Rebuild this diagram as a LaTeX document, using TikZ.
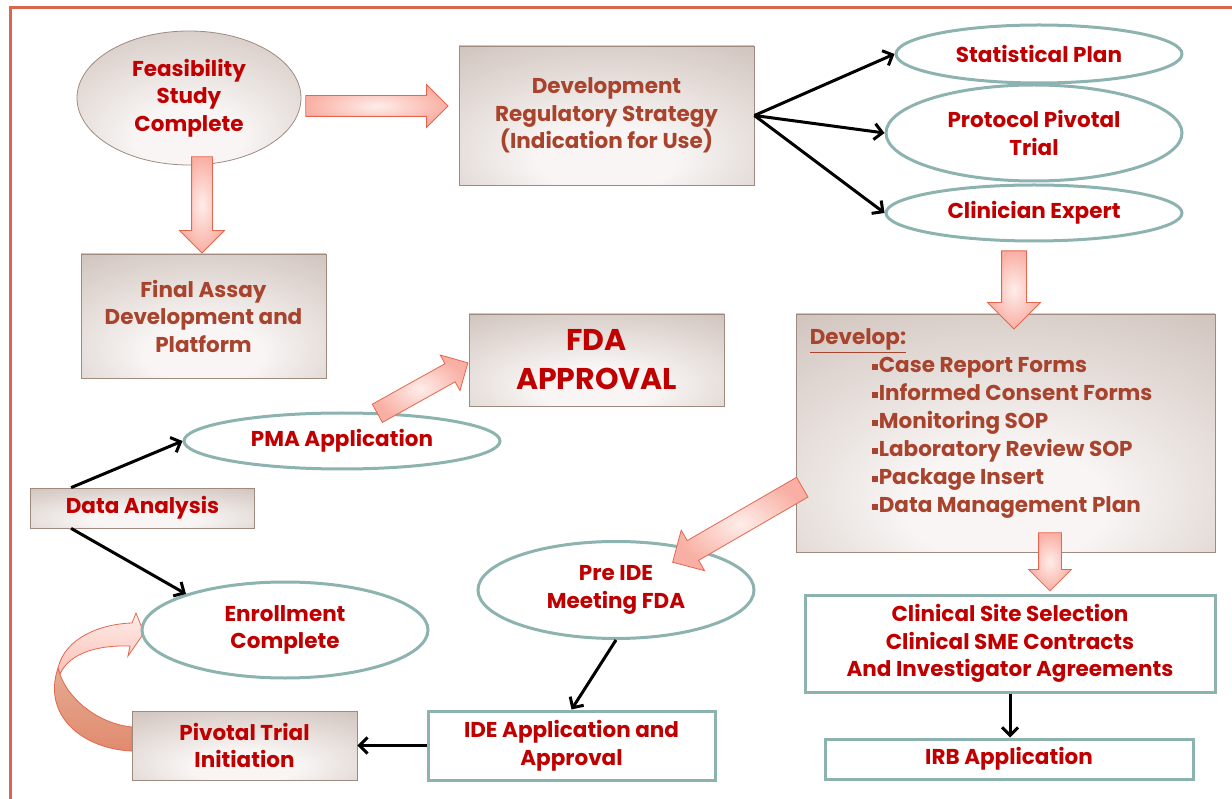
\documentclass[tikz,border=0pt]{standalone}
\usepackage{fontspec}
\setmainfont{Poppins}
\usetikzlibrary{shapes.geometric,shapes.arrows,arrows.meta,calc}
\definecolor{txtred}{HTML}{C00000}
\definecolor{txtbrown}{HTML}{A8432E}
\definecolor{tealline}{HTML}{8DB3B1}
\definecolor{boxin}{HTML}{F8F5F4}
\definecolor{boxout}{HTML}{CDBFB8}
\definecolor{boxline}{HTML}{9F8A80}
\definecolor{pinkin}{HTML}{FEEDEA}
\definecolor{pinkout}{HTML}{F9AFA3}
\definecolor{pinkline}{HTML}{E4664F}
\definecolor{framered}{HTML}{D9664F}
\pgfdeclareradialshading{boxglow}{\pgfpoint{0bp}{-18bp}}{color(0bp)=(boxin); color(12bp)=(boxin); color(45bp)=(boxout); color(80bp)=(boxout)}
\newcommand\sqb{\raisebox{0.13em}{\rule{0.28em}{0.28em}}\kern1pt}

\begin{document}
\begin{tikzpicture}[x=1pt, y=-1pt,
  every node/.style={font=\bfseries\fontsize{21.5}{27.5}\selectfont, align=center, inner sep=0pt},
  graybox/.style={draw=boxline, line width=0.8pt, shading=boxglow},
  grayoval/.style={graybox, ellipse},
  oval/.style={ellipse, draw=tealline, line width=3pt, fill=white},
  tealbox/.style={draw=tealline, line width=3pt, fill=white},
  fatarrow/.style={single arrow, anchor=tail, draw=pinkline, line width=0.8pt,
    inner color=pinkin, outer color=pinkout, inner xsep=0pt},
  link/.style={-{Straight Barb[length=8pt,width=16pt]}, line width=3pt}]
  \useasboundingbox (0,0) rectangle (1232,799);
  \draw[framered, line width=3pt] (10,8) rectangle (1260,830);

  \draw[top color=pinkline!50!brown!60, bottom color=pinkline!70!brown!80, draw=pinkline, line width=0.8pt]
    (132,751) .. controls (82,749) and (42,715) .. (58,668)
    .. controls (66,700) and (100,724) .. (132,727) -- cycle;
  \draw[top color=pinkin, bottom color=pinkout!80, draw=pinkline, line width=0.8pt]
    (58,668) .. controls (65,638) and (100,624) .. (132,623) -- (136,613) -- (144,633)
    -- (128,656) -- (130,646) .. controls (100,645) and (70,652) .. (60,674) -- cycle;

  \node[grayoval, minimum width=224pt, minimum height=134pt, text=txtred] (feas) at (189,98) {Feasibility\\Study\\Complete};
  \node[graybox, minimum width=245pt, minimum height=124pt, text=txtbrown] (final) at (203.5,316) {Final Assay\\Development and\\Platform};
  \node[graybox, minimum width=295pt, minimum height=139pt, text=txtbrown] (dev) at (606.5,115.5) {Development\\Regulatory Strategy\\(Indication for Use)};
  \node[oval, minimum width=286pt, minimum height=58pt, text=txtred] (stat) at (1039,54) {Statistical Plan};
  \node[oval, minimum width=296pt, minimum height=96pt, text=txtred] (prot) at (1034,133) {Protocol Pivotal\\Trial};
  \node[oval, minimum width=296pt, minimum height=56pt, text=txtred] (clin) at (1034,213) {Clinician Expert};
  \node[graybox, minimum width=419pt, minimum height=238pt] (devl) at (1005.5,433) {};
  \node[anchor=north west, align=left, text=txtbrown, font=\bfseries\fontsize{21.5}{28}\selectfont] (devtxt) at ($(devl.north west)+(14,15)$)
    {\underline{Develop:}\\
     \hspace*{62pt}\sqb Case Report Forms\\
     \hspace*{62pt}\sqb Informed Consent Forms\\
     \hspace*{62pt}\sqb Monitoring SOP\\
     \hspace*{62pt}\sqb Laboratory Review SOP\\
     \hspace*{62pt}\sqb Package Insert\\
     \hspace*{62pt}\sqb Data Management Plan};
  \node[tealbox, minimum width=410pt, minimum height=97pt, text=txtred] (site) at (1010,643.5) {Clinical Site Selection\\Clinical SME Contracts\\And Investigator Agreements};
  \node[tealbox, minimum width=368pt, minimum height=40pt, text=txtred] (irb) at (1009,759) {IRB Application};
  \node[oval, minimum width=276pt, minimum height=97pt, text=txtred] (pre) at (616,590) {Pre IDE\\Meeting FDA};
  \node[tealbox, minimum width=287pt, minimum height=69pt, text=txtred] (ide) at (571.5,745.5) {IDE Application and\\Approval};
  \node[graybox, minimum width=225pt, minimum height=69pt, text=txtred] (piv) at (244.5,745.5) {Pivotal Trial\\Initiation};
  \node[oval, minimum width=286pt, minimum height=96pt, text=txtred] (enr) at (285,630) {Enrollment\\Complete};
  \node[graybox, minimum width=224pt, minimum height=40pt, text=txtred] (data) at (142.5,508) {Data Analysis};
  \node[oval, minimum width=316pt, minimum height=56pt, text=txtred] (pma) at (342,441) {PMA Application};
  \node[graybox, minimum width=255pt, minimum height=92pt, text=txtred, font=\bfseries\fontsize{30}{39}\selectfont] (fda) at (596.5,360) {FDA\\APPROVAL};

  \draw[link] (dev.east) -- (stat.west);
  \draw[link] (dev.east) -- (prot.west);
  \draw[link] (dev.east) -- (clin.west);
  \draw[link] ($(data.north west)+(41,0)$) -- (pma.west);
  \draw[link] ($(data.south west)+(41,0)$) -- (enr.160);
  \draw[link] (pre.south) -- (ide.north);
  \draw[link] (ide.west) -- (piv.east);
  \draw[link] (site.south) -- (site.south |- irb.north);

  \coordinate (a1) at ($(feas.east)+(4,8)$);
  \coordinate (b1) at ($(dev.west)+(-11,-9.5)$);
  \coordinate (a2) at ($(feas.south)+(13,-9)$);
  \coordinate (b2) at ($(final.north)+(-1.5,-1)$);
  \coordinate (a3) at ($(clin.south)+(-20,8)$);
  \coordinate (b3) at ($(devl.north)+(8.5,15)$);
  \coordinate (a4) at ($(devl.south)+(44.5,-20)$);
  \coordinate (b4) at ($(site.north)+(40,-3)$);
  \coordinate (a5) at ($(devl.west)+(7,54)$);
  \coordinate (b5) at ($(pre.center)+(57,-28)$);
  \coordinate (a6) at ($(pma.north)+(35,2)$);
  \coordinate (b6) at ($(fda.west)+(-1,3)$);
  \foreach \s/\e/\w/\h in {a1/b1/10/11, a2/b2/10/12, a3/b3/12/14, a4/b4/11/10, a5/b5/11/12, a6/b6/10/10}
    \path let \p1=($(\e)-(\s)$) in
      node[fatarrow, rotate={atan2(\y1,\x1)}, minimum height={veclen(\x1,\y1)},
        inner ysep=\w, single arrow head extend=\h] (arr-\s) at (\s) {};
\end{tikzpicture}
\end{document}
